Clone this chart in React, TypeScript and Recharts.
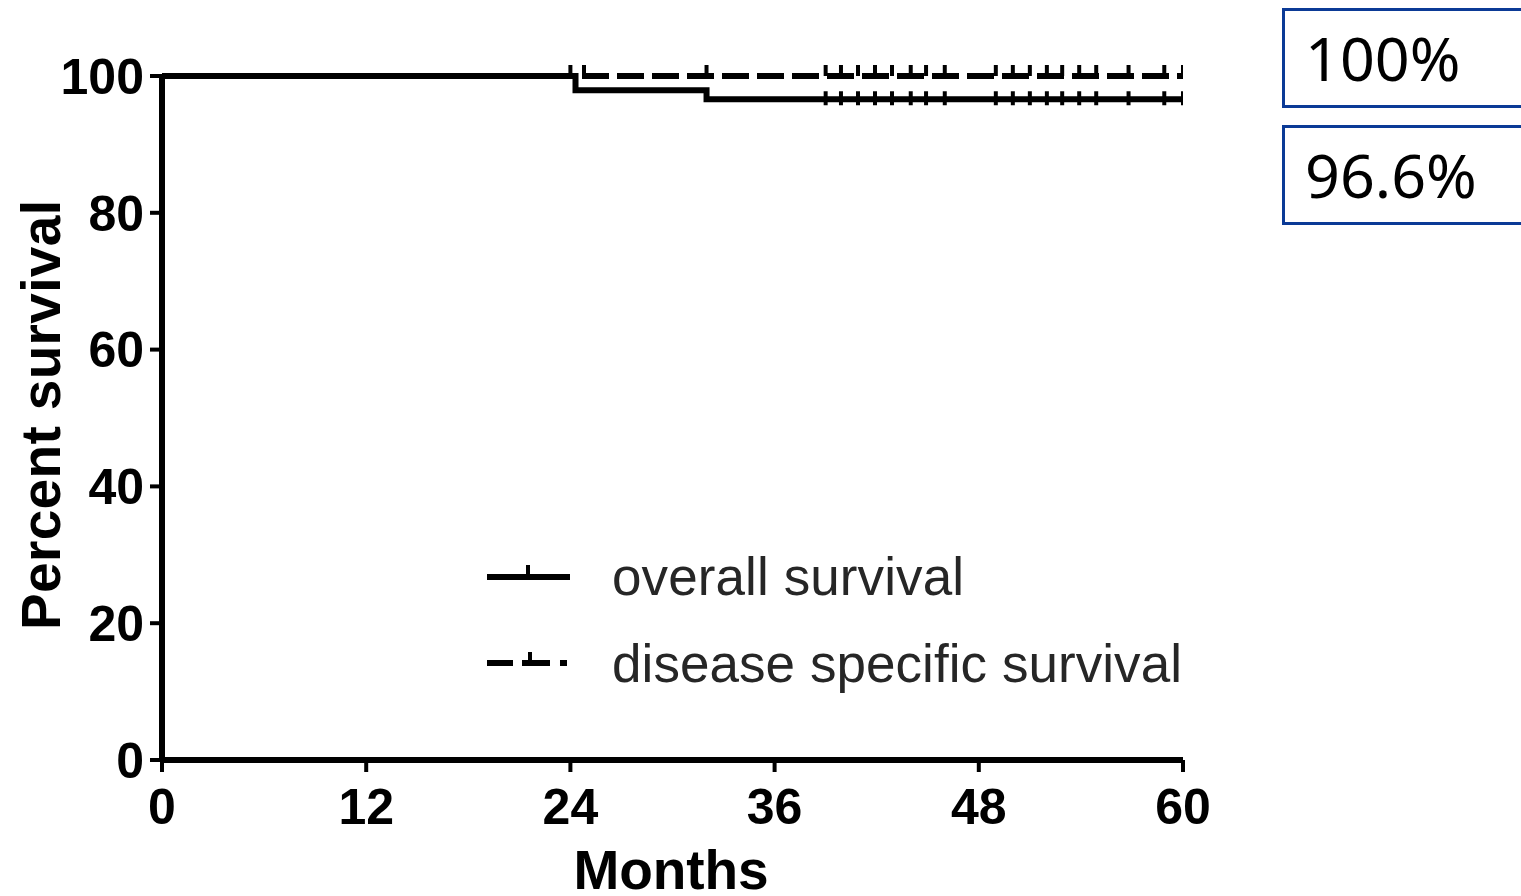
import React from "react";
import { ComposedChart, Line, Scatter, XAxis, YAxis } from "recharts";

// ── Data ──────────────────────────────────────────────────────────────────────
const X_TICKS = [0, 12, 24, 36, 48, 60];
const Y_TICKS = [0, 20, 40, 60, 80, 100];

// Kaplan-Meier steps (month, percent)
const OS_MONTHS = [0, 24.3, 32, 60];
const OS_PCT = [100, 97.9, 96.6, 96.6];
const DSS_MONTHS = [0, 60];
const DSS_PCT = [100, 100];

// censored patients (months)
const OS_CENSOR = [39, 39.9, 40.9, 41.9, 42.9, 44, 44.9, 46, 49, 50, 51, 52, 52.9, 53.9, 54.9, 56.8, 58.9, 60];
const DSS_CENSOR = [24, 24.8, 32, 39, 39.9, 40.9, 41.9, 42.9, 44, 44.9, 46, 49, 50, 51, 52, 52.9, 53.9, 54.9, 56.8, 58.9, 60];

const SERIES = ["overall survival", "disease specific survival"];
const BOXES = ["100%", "96.6%"];

// ── Build ─────────────────────────────────────────────────────────────────────
const osData = OS_MONTHS.map((t, i) => ({ t, s: OS_PCT[i] }));
const dssData = DSS_MONTHS.map((t, i) => ({ t, s: DSS_PCT[i] }));
const osCensorData = OS_CENSOR.map((t) => ({ t, s: OS_PCT[OS_PCT.length - 1] }));
const dssCensorData = DSS_CENSOR.map((t) => ({ t, s: 100 }));

const AXIS_FONT = "'Liberation Sans', Arial, sans-serif";
const tickStyle = { fill: "#000", fontSize: 50, fontWeight: 700, fontFamily: AXIS_FONT };

function OsTick(props: any) {
  const { cx, cy } = props;
  return <line x1={cx} x2={cx} y1={cy - 8} y2={cy + 6} stroke="#000" strokeWidth={4} />;
}

function DssTick(props: any) {
  const { cx, cy } = props;
  return <line x1={cx} x2={cx} y1={cy - 11} y2={cy} stroke="#000" strokeWidth={4} />;
}

function Legendish() {
  return (
    <svg width={780} height={170} style={{ position: "absolute", left: 470, top: 530 }}>
      {/* overall survival */}
      <line x1={17} x2={100} y1={47} y2={47} stroke="#000" strokeWidth={6} />
      <line x1={58} x2={58} y1={35} y2={47} stroke="#000" strokeWidth={4} />
      <text x={142} y={65} fontSize={53} fill="#262626" fontFamily={AXIS_FONT} textLength={352}>{SERIES[0]}</text>
      {/* disease specific survival */}
      <line x1={17} x2={100} y1={133} y2={133} stroke="#000" strokeWidth={6} strokeDasharray="26 9 28 10 7" />
      <line x1={60} x2={60} y1={122} y2={133} stroke="#000" strokeWidth={4} />
      <text x={142} y={152} fontSize={53} fill="#262626" fontFamily={AXIS_FONT} textLength={570}>{SERIES[1]}</text>
    </svg>
  );
}

function Box({ top, text }: { top: number; text: string }) {
  return (
    <div
      style={{
        position: "absolute",
        left: 1282,
        top,
        width: 280,
        height: 94,
        border: "3.5px solid #0b3a96",
        background: "#fff",
        fontFamily: "'Noto Sans', 'Open Sans', sans-serif",
        fontSize: 61,
        lineHeight: "94px",
        paddingLeft: 20,
        color: "#000",
        boxSizing: "content-box",
      }}
    >
      {text}
    </div>
  );
}

export default function App() {
  return (
    <div style={{ position: "absolute", left: 0, top: 0, width: 1521, height: 896, overflow: "hidden", background: "#fff" }}>
      <ComposedChart width={1521} height={896} margin={{ top: 76, right: 338, left: 62, bottom: 56 }}>
        <XAxis
          type="number"
          dataKey="t"
          domain={[0, 60]}
          ticks={X_TICKS}
          interval={0}
          allowDataOverflow
          height={80}
          tickSize={12}
          tickMargin={16}
          tick={tickStyle}
          axisLine={{ stroke: "#000", strokeWidth: 6 }}
          tickLine={{ stroke: "#000", strokeWidth: 4 }}
          label={{
            content: () => (
              <text x={671} y={889} textAnchor="middle" fontSize={55} fontWeight={700} fontFamily={AXIS_FONT} fill="#000" textLength={195}>
                Months
              </text>
            ),
          }}
        />
        <YAxis
          type="number"
          domain={[0, 100]}
          ticks={Y_TICKS}
          interval={0}
          width={100}
          tickSize={12}
          tickMargin={6}
          tick={tickStyle}
          axisLine={{ stroke: "#000", strokeWidth: 6 }}
          tickLine={{ stroke: "#000", strokeWidth: 4 }}
          label={{
            content: () => (
              <text
                x={0}
                y={0}
                transform="translate(60,415) rotate(-90)"
                textAnchor="middle"
                fontSize={55}
                fontWeight={700}
                fontFamily={AXIS_FONT}
                fill="#000"
                textLength={430}
              >
                Percent survival
              </text>
            ),
          }}
        />
        <Line data={osData} dataKey="s" type="stepAfter" stroke="#000" strokeWidth={6} dot={false} activeDot={false} isAnimationActive={false} />
        <Line data={dssData} dataKey="s" type="stepAfter" stroke="#000" strokeWidth={6} strokeDasharray="27 8" dot={false} activeDot={false} isAnimationActive={false} />
        <Scatter data={osCensorData} dataKey="s" shape={<OsTick />} isAnimationActive={false} />
        <Scatter data={dssCensorData} dataKey="s" shape={<DssTick />} isAnimationActive={false} />
      </ComposedChart>
      <Legendish />
      <Box top={8} text={BOXES[0]} />
      <Box top={125} text={BOXES[1]} />
    </div>
  );
}
